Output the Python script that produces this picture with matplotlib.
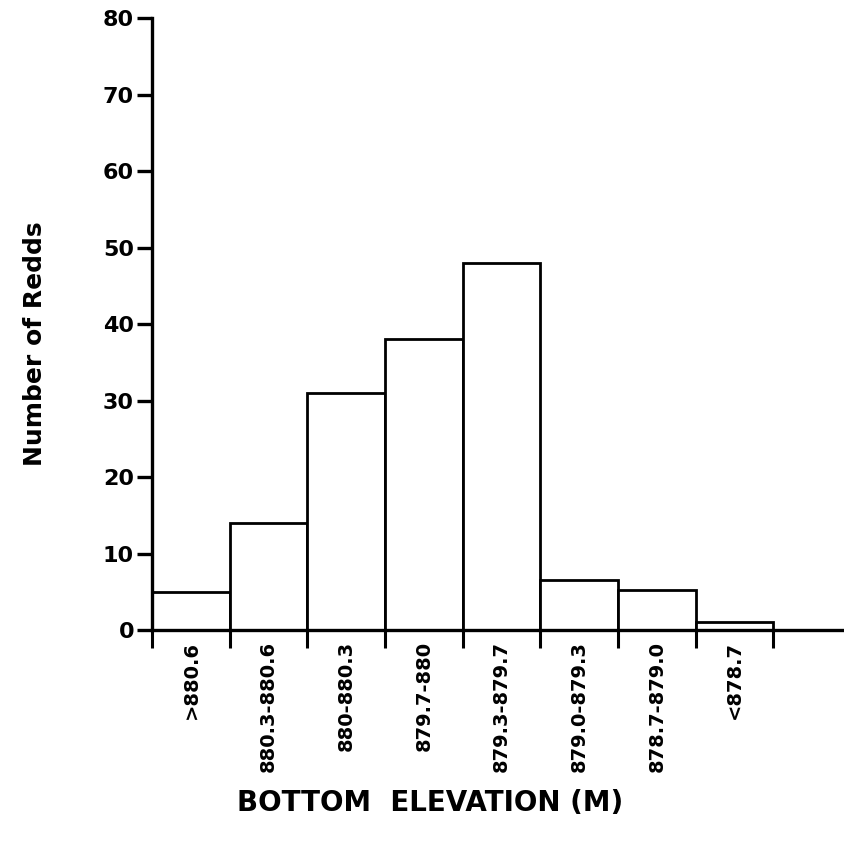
import matplotlib.pyplot as plt
import numpy as np

# redd counts by bottom elevation class (m)
elev_classes = ['>880.6', '880.3-880.6', '880-880.3', '879.7-880',
                '879.3-879.7', '879.0-879.3', '878.7-879.0', '<878.7']
redd_counts = [5, 14, 31, 38, 48, 6.6, 5.2, 1]
y_ticks = [0, 10, 20, 30, 40, 50, 60, 70, 80]

plt.rcParams['font.family'] = 'DejaVu Sans'
plt.rcParams['font.weight'] = 'bold'

fig = plt.figure(figsize=(8.45, 8.5), dpi=100)
ax = fig.add_axes([0.180, 0.2588, 0.818, 0.72])

pos = np.arange(len(redd_counts))
ax.bar(pos, redd_counts, width=1.0, align='edge', color='white',
       edgecolor='black', linewidth=2.0)

ax.set_xlim(0, 8.9)
ax.set_ylim(0, 80)

for s in ['top', 'right']:
    ax.spines[s].set_visible(False)
for s in ['left', 'bottom']:
    ax.spines[s].set_linewidth(2.4)

# y axis
ax.set_yticks(y_ticks)
ax.set_yticklabels([str(v) for v in y_ticks], fontsize=16, fontweight='bold')
ax.tick_params(axis='y', direction='out', length=11, width=2.4, pad=2)

# x axis: ticks on class boundaries, labels at class centres
ax.set_xticks(np.arange(len(redd_counts) + 1), minor=True)
ax.set_xticks(pos + 0.5)
ax.set_xticklabels(elev_classes, rotation=90, fontsize=14, fontweight='bold')
ax.tick_params(axis='x', which='major', length=0, pad=8)
ax.tick_params(axis='x', which='minor', direction='out', length=13, width=2.2)

fig.text(0.041, 0.596, 'Number of Redds', rotation=90, ha='center', va='center',
         fontsize=18, fontweight='bold')
fig.text(0.509, 0.055, 'BOTTOM  ELEVATION (M)', ha='center', va='center',
         fontsize=20, fontweight='bold')

fig.savefig('out.png', dpi=100)
